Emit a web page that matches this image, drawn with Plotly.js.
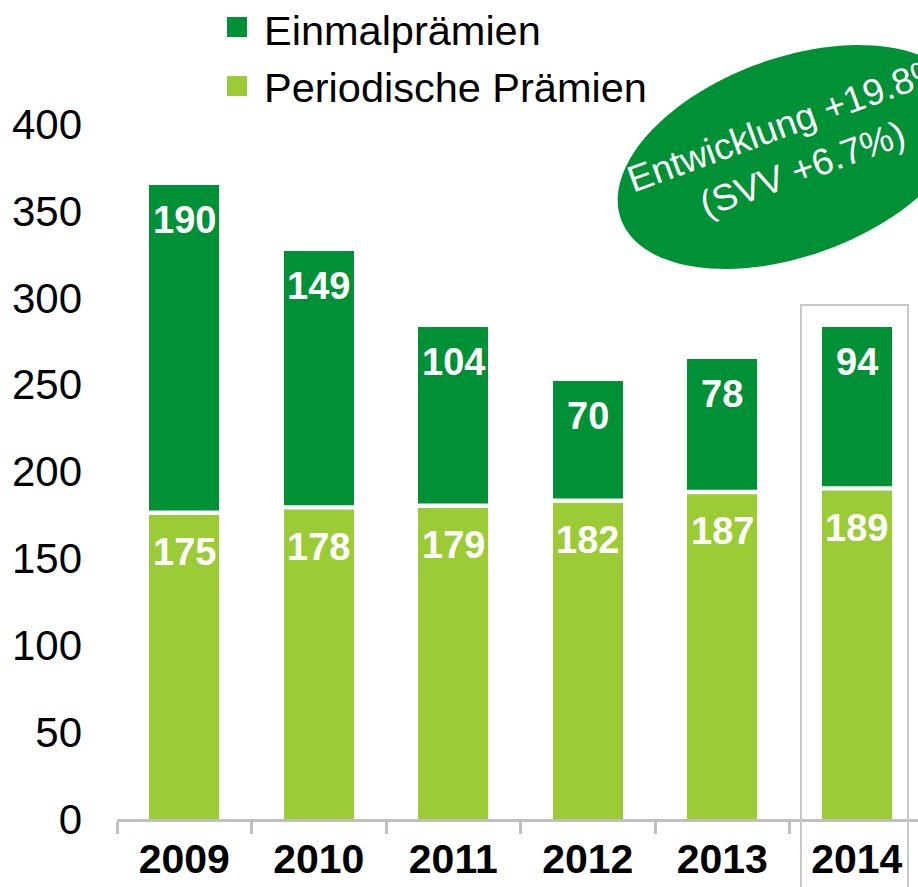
<!DOCTYPE html>
<html>
<head>
<meta charset="utf-8">
<script src="https://cdn.plot.ly/plotly-3.0.1.min.js"></script>
<style>html,body{margin:0;padding:0;background:#fff;}#chart{width:918px;height:887px;}</style>
</head>
<body>
<div id="chart"></div>
<script>
// ---- data ----
const years = ['2009', '2010', '2011', '2012', '2013', '2014'];
const periodicPremiums = [175, 178, 179, 182, 187, 189];
const singlePremiums = [190, 149, 104, 70, 78, 94];
const legendLabels = ['Einmalprämien', 'Periodische Prämien'];
const calloutText = ['Entwicklung +19.8%', '(SVV +6.7%)'];
const yTicks = [0, 50, 100, 150, 200, 250, 300, 350, 400];

// ---- styling / layout helpers ----
const DARK = '#009036';
const LIGHT = '#9BCB35';
const FONT = 'Liberation Sans, Arial, sans-serif';
const W = 918, H = 887, ML = 117, MT = 93, MB = 68;
const PW = W - ML, PH = H - MT - MB;
const px = x => (x - ML) / PW;
const py = y => (H - MB - y) / PH;
const BARW = 0.52;

const traces = [
  {
    type: 'bar', name: legendLabels[1], x: years, y: periodicPremiums,
    marker: {color: LIGHT, line: {width: 0}},
    width: BARW, showlegend: false, hoverinfo: 'skip'
  },
  {
    type: 'bar', name: legendLabels[0], x: years, y: singlePremiums,
    marker: {color: DARK, line: {width: 0}},
    width: BARW, showlegend: false, hoverinfo: 'skip'
  }
];

const annotations = [];
const shapes = [];
years.forEach((yr, i) => {
  annotations.push({
    x: i, y: periodicPremiums[i], xref: 'x', yref: 'y',
    text: String(periodicPremiums[i]), showarrow: false,
    yanchor: 'middle', xanchor: 'center', yshift: -37,
    font: {family: FONT, size: 38, color: '#ffffff', weight: 'bold'}
  });
  annotations.push({
    x: i, y: periodicPremiums[i] + singlePremiums[i], xref: 'x', yref: 'y',
    text: String(singlePremiums[i]), showarrow: false,
    yanchor: 'middle', xanchor: 'center', yshift: -35,
    font: {family: FONT, size: 38, color: '#ffffff', weight: 'bold'}
  });
  // white separator between the two stacked segments
  shapes.push({
    type: 'rect', xref: 'x', yref: 'y', ysizemode: 'pixel',
    x0: i - BARW / 2 - 0.01, x1: i + BARW / 2 + 0.01,
    yanchor: periodicPremiums[i], y0: 0, y1: 4.5,
    fillcolor: '#ffffff', line: {width: 0}, layer: 'above'
  });
});

// legend (manual, to get large square swatches)
const legendRows = [
  {c: DARK, sy: 27, ty: 29, t: legendLabels[0]},
  {c: LIGHT, sy: 86, ty: 85, t: legendLabels[1]}
];
legendRows.forEach(r => {
  shapes.push({type: 'rect', xref: 'paper', yref: 'paper',
    x0: px(227), x1: px(247), y0: py(r.sy + 10), y1: py(r.sy - 10),
    fillcolor: r.c, line: {width: 0}});
  annotations.push({xref: 'paper', yref: 'paper', x: px(262), y: py(r.ty + 2),
    xanchor: 'left', yanchor: 'middle', showarrow: false, text: r.t,
    font: {family: FONT, size: 41.5, color: '#000000'}});
});

// rotated ellipse callout
const cx = 792, cy = 157, a = 182, b = 99, th = 20 * Math.PI / 180;
let path = '';
for (let k = 0; k <= 120; k++) {
  const t = 2 * Math.PI * k / 120;
  const X = cx + a * Math.cos(t) * Math.cos(th) + b * Math.sin(t) * Math.sin(th);
  const Y = cy - a * Math.cos(t) * Math.sin(th) + b * Math.sin(t) * Math.cos(th);
  path += (k === 0 ? 'M' : 'L') + px(X).toFixed(5) + ',' + py(Y).toFixed(5);
}
path += 'Z';
shapes.push({type: 'path', xref: 'paper', yref: 'paper', path: path,
  fillcolor: DARK, line: {width: 0}});
annotations.push({xref: 'paper', yref: 'paper', x: px(794), y: py(146),
  xanchor: 'center', yanchor: 'middle', showarrow: false, textangle: -20,
  text: calloutText.join('<br>'),
  font: {family: FONT, size: 37, color: '#ffffff'}});

// highlight box around 2014
shapes.push({type: 'rect', xref: 'paper', yref: 'paper',
  x0: px(801), x1: px(908), y0: py(895), y1: py(305),
  line: {color: '#C8C8C8', width: 2}, fillcolor: 'rgba(0,0,0,0)'});

const layout = {
  width: W, height: H,
  margin: {l: ML, r: 0, t: MT, b: MB, pad: 0},
  paper_bgcolor: '#ffffff', plot_bgcolor: '#ffffff',
  barmode: 'stack',
  showlegend: false,
  xaxis: {
    type: 'category', range: [-0.5, 5.455],
    showline: true, linecolor: '#BFBFBF', linewidth: 3,
    ticks: 'outside', tickson: 'boundaries', ticklen: 12, tickwidth: 3, tickcolor: '#BFBFBF',
    showgrid: false, zeroline: false,
    tickfont: {family: FONT, size: 41, color: '#000000', weight: 'bold'},
    ticklabelstandoff: 2
  },
  yaxis: {
    range: [0, 418], tickvals: yTicks, ticktext: yTicks.map(String),
    showline: false, showgrid: false, zeroline: false, ticks: '',
    tickfont: {family: FONT, size: 42, color: '#000000'},
    ticklabelstandoff: 34
  },
  shapes: shapes,
  annotations: annotations,
  font: {family: FONT}
};

Plotly.newPlot('chart', traces, layout, {displayModeBar: false, staticPlot: true});
</script>
</body>
</html>
